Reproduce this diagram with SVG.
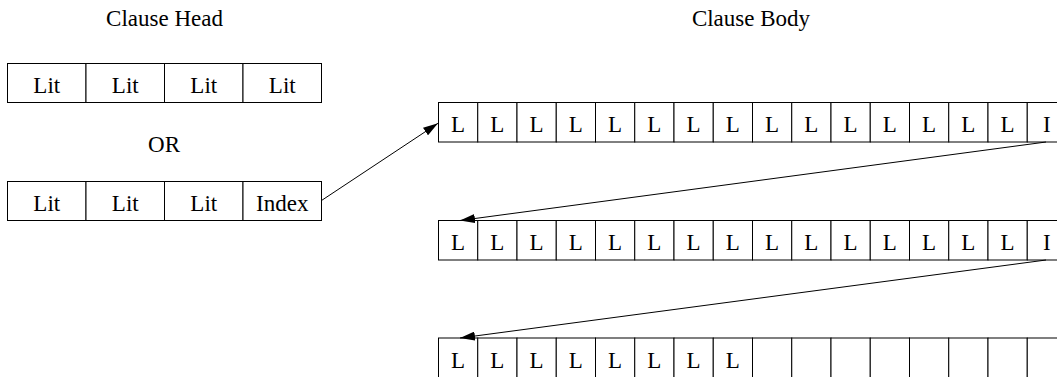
<svg xmlns="http://www.w3.org/2000/svg" width="1057" height="377" viewBox="0 0 1057 377">
<style>
.c{fill:#fff;stroke:#000;stroke-width:1}
.t{font-family:"Liberation Serif","Times New Roman",Times,"DejaVu Serif",serif;font-size:23px;fill:#000;text-anchor:middle}
.a{stroke:#000;stroke-width:1;fill:none}
</style>
<defs>
<marker id="ah" markerUnits="userSpaceOnUse" markerWidth="16" markerHeight="9" refX="15" refY="4.5" orient="auto">
<path d="M0,0 L15,4.5 L0,9 z" fill="#000"/>
</marker>
</defs>
<rect width="1057" height="377" fill="#fff"/>
<g id="title-head"><text class="t" x="164.5" y="26">Clause Head</text></g>
<g id="title-body"><text class="t" x="751" y="26">Clause Body</text></g>
<g id="head-lits">
<rect class="c" x="7.5" y="63.5" width="78.5" height="39"/>
<rect class="c" x="86" y="63.5" width="78.5" height="39"/>
<rect class="c" x="164.5" y="63.5" width="78.5" height="39"/>
<rect class="c" x="243" y="63.5" width="78.5" height="39"/>
<text class="t" x="46.75" y="93">Lit</text>
<text class="t" x="125.25" y="93">Lit</text>
<text class="t" x="203.75" y="93">Lit</text>
<text class="t" x="282.25" y="93">Lit</text>
</g>
<g id="or-label"><text class="t" x="164" y="152">OR</text></g>
<g id="head-index">
<rect class="c" x="7.5" y="181.5" width="78.5" height="39"/>
<rect class="c" x="86" y="181.5" width="78.5" height="39"/>
<rect class="c" x="164.5" y="181.5" width="78.5" height="39"/>
<rect class="c" x="243" y="181.5" width="78.5" height="39"/>
<text class="t" x="46.75" y="211">Lit</text>
<text class="t" x="125.25" y="211">Lit</text>
<text class="t" x="203.75" y="211">Lit</text>
<text class="t" x="282.25" y="211">Index</text>
</g>
<g id="body-row1">
<rect class="c" x="438.5" y="102.5" width="39.25" height="39.5"/>
<rect class="c" x="477.75" y="102.5" width="39.25" height="39.5"/>
<rect class="c" x="517" y="102.5" width="39.25" height="39.5"/>
<rect class="c" x="556.25" y="102.5" width="39.25" height="39.5"/>
<rect class="c" x="595.5" y="102.5" width="39.25" height="39.5"/>
<rect class="c" x="634.75" y="102.5" width="39.25" height="39.5"/>
<rect class="c" x="674" y="102.5" width="39.25" height="39.5"/>
<rect class="c" x="713.25" y="102.5" width="39.25" height="39.5"/>
<rect class="c" x="752.5" y="102.5" width="39.25" height="39.5"/>
<rect class="c" x="791.75" y="102.5" width="39.25" height="39.5"/>
<rect class="c" x="831" y="102.5" width="39.25" height="39.5"/>
<rect class="c" x="870.25" y="102.5" width="39.25" height="39.5"/>
<rect class="c" x="909.5" y="102.5" width="39.25" height="39.5"/>
<rect class="c" x="948.75" y="102.5" width="39.25" height="39.5"/>
<rect class="c" x="988" y="102.5" width="39.25" height="39.5"/>
<rect class="c" x="1027.25" y="102.5" width="39.25" height="39.5"/>
<text class="t" x="458.1" y="132">L</text>
<text class="t" x="497.4" y="132">L</text>
<text class="t" x="536.6" y="132">L</text>
<text class="t" x="575.9" y="132">L</text>
<text class="t" x="615.1" y="132">L</text>
<text class="t" x="654.4" y="132">L</text>
<text class="t" x="693.6" y="132">L</text>
<text class="t" x="732.9" y="132">L</text>
<text class="t" x="772.1" y="132">L</text>
<text class="t" x="811.4" y="132">L</text>
<text class="t" x="850.6" y="132">L</text>
<text class="t" x="889.9" y="132">L</text>
<text class="t" x="929.1" y="132">L</text>
<text class="t" x="968.4" y="132">L</text>
<text class="t" x="1007.6" y="132">L</text>
<text class="t" x="1046.9" y="132">I</text>
</g>
<g id="body-row2">
<rect class="c" x="438.5" y="220.5" width="39.25" height="39.5"/>
<rect class="c" x="477.75" y="220.5" width="39.25" height="39.5"/>
<rect class="c" x="517" y="220.5" width="39.25" height="39.5"/>
<rect class="c" x="556.25" y="220.5" width="39.25" height="39.5"/>
<rect class="c" x="595.5" y="220.5" width="39.25" height="39.5"/>
<rect class="c" x="634.75" y="220.5" width="39.25" height="39.5"/>
<rect class="c" x="674" y="220.5" width="39.25" height="39.5"/>
<rect class="c" x="713.25" y="220.5" width="39.25" height="39.5"/>
<rect class="c" x="752.5" y="220.5" width="39.25" height="39.5"/>
<rect class="c" x="791.75" y="220.5" width="39.25" height="39.5"/>
<rect class="c" x="831" y="220.5" width="39.25" height="39.5"/>
<rect class="c" x="870.25" y="220.5" width="39.25" height="39.5"/>
<rect class="c" x="909.5" y="220.5" width="39.25" height="39.5"/>
<rect class="c" x="948.75" y="220.5" width="39.25" height="39.5"/>
<rect class="c" x="988" y="220.5" width="39.25" height="39.5"/>
<rect class="c" x="1027.25" y="220.5" width="39.25" height="39.5"/>
<text class="t" x="458.1" y="250">L</text>
<text class="t" x="497.4" y="250">L</text>
<text class="t" x="536.6" y="250">L</text>
<text class="t" x="575.9" y="250">L</text>
<text class="t" x="615.1" y="250">L</text>
<text class="t" x="654.4" y="250">L</text>
<text class="t" x="693.6" y="250">L</text>
<text class="t" x="732.9" y="250">L</text>
<text class="t" x="772.1" y="250">L</text>
<text class="t" x="811.4" y="250">L</text>
<text class="t" x="850.6" y="250">L</text>
<text class="t" x="889.9" y="250">L</text>
<text class="t" x="929.1" y="250">L</text>
<text class="t" x="968.4" y="250">L</text>
<text class="t" x="1007.6" y="250">L</text>
<text class="t" x="1046.9" y="250">I</text>
</g>
<g id="body-row3">
<rect class="c" x="438.5" y="338" width="39.25" height="39.5"/>
<rect class="c" x="477.75" y="338" width="39.25" height="39.5"/>
<rect class="c" x="517" y="338" width="39.25" height="39.5"/>
<rect class="c" x="556.25" y="338" width="39.25" height="39.5"/>
<rect class="c" x="595.5" y="338" width="39.25" height="39.5"/>
<rect class="c" x="634.75" y="338" width="39.25" height="39.5"/>
<rect class="c" x="674" y="338" width="39.25" height="39.5"/>
<rect class="c" x="713.25" y="338" width="39.25" height="39.5"/>
<rect class="c" x="752.5" y="338" width="39.25" height="39.5"/>
<rect class="c" x="791.75" y="338" width="39.25" height="39.5"/>
<rect class="c" x="831" y="338" width="39.25" height="39.5"/>
<rect class="c" x="870.25" y="338" width="39.25" height="39.5"/>
<rect class="c" x="909.5" y="338" width="39.25" height="39.5"/>
<rect class="c" x="948.75" y="338" width="39.25" height="39.5"/>
<rect class="c" x="988" y="338" width="39.25" height="39.5"/>
<rect class="c" x="1027.25" y="338" width="39.25" height="39.5"/>
<text class="t" x="458.1" y="367.5">L</text>
<text class="t" x="497.4" y="367.5">L</text>
<text class="t" x="536.6" y="367.5">L</text>
<text class="t" x="575.9" y="367.5">L</text>
<text class="t" x="615.1" y="367.5">L</text>
<text class="t" x="654.4" y="367.5">L</text>
<text class="t" x="693.6" y="367.5">L</text>
<text class="t" x="732.9" y="367.5">L</text>
</g>
<g id="connectors">
<line class="a" x1="321.5" y1="200.5" x2="438" y2="123.3" marker-end="url(#ah)"/>
<line class="a" x1="1046" y1="142" x2="460" y2="220.5" marker-end="url(#ah)"/>
<line class="a" x1="1046" y1="260" x2="460" y2="338" marker-end="url(#ah)"/>
</g>
</svg>
